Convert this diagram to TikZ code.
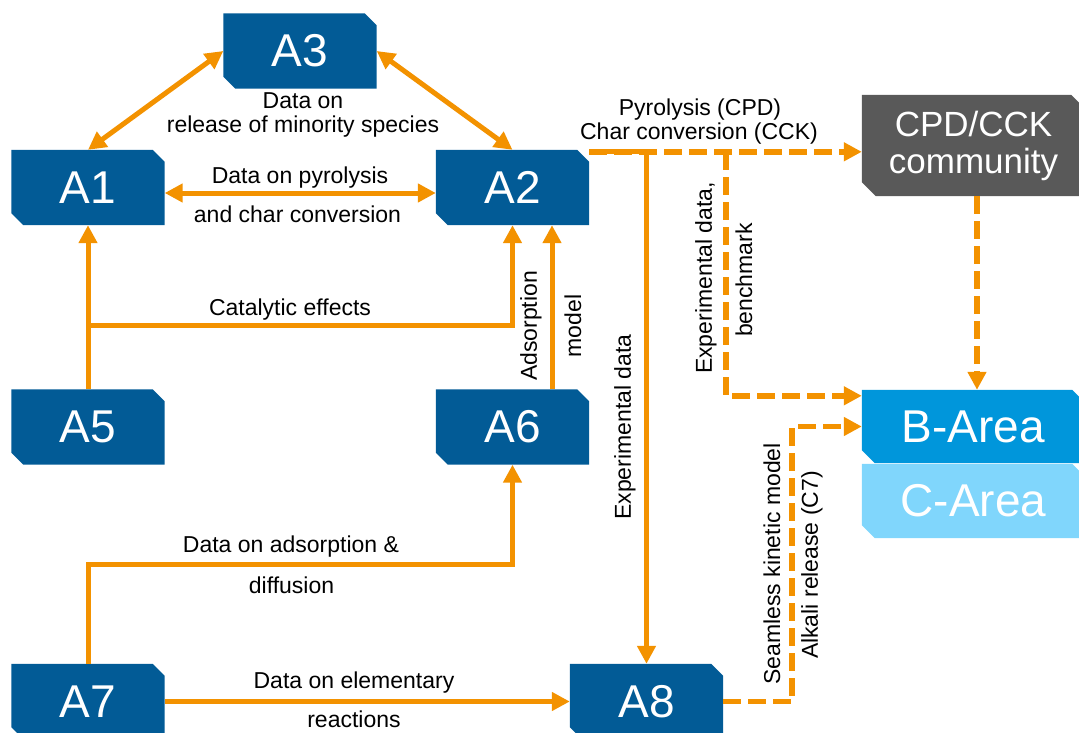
\documentclass[tikz,border=0pt]{standalone}
\usepackage{fontspec}
\setmainfont{Liberation Sans}
\usetikzlibrary{arrows.meta,backgrounds,calc}
\definecolor{ablue}{RGB}{2,91,150}
\definecolor{cgray}{RGB}{89,89,89}
\definecolor{bblue}{RGB}{0,150,219}
\definecolor{clight}{RGB}{128,214,252}
\definecolor{org}{RGB}{243,146,0}
\newcommand{\mkchbox}[3]{\fill[#2] (#1.north west) -- ([xshift=-#3]#1.north east) -- ([yshift=-#3]#1.north east) -- (#1.south east) -- ([xshift=#3]#1.south west) -- ([yshift=#3]#1.south west) -- cycle;}
\begin{document}
\begin{tikzpicture}[x=1pt,y=-1pt,
 abox/.style={rectangle, minimum width=153pt, minimum height=75pt, inner sep=0pt, text=white, font=\fontsize{46}{48}\selectfont},
 rbox/.style={rectangle, minimum width=223pt, inner sep=0pt, text=white, font=\fontsize{46}{48}\selectfont},
 lbl/.style={inner sep=0pt, anchor=base, font=\fontsize{23}{24}\selectfont},
 rlbl/.style={inner sep=0pt, rotate=90, font=\fontsize{23}{24}\selectfont},
 conn/.style={draw=org, line width=5pt, -{Triangle[width=18pt,length=18pt]}},
 biconn/.style={draw=org, line width=5pt, {Triangle[width=18pt,length=18pt]}-{Triangle[width=18pt,length=18pt]}},
 dconn/.style={draw=org, line width=5.5pt, dash pattern=on 18pt off 7pt, -{Triangle[width=18pt,length=18pt]}},
]
\useasboundingbox (0,0) rectangle (1079,733);
\clip (0,0) rectangle (1079,733);

% boxes
\node[abox] (a3) at (300,51) {A3};
\node[abox] (a1) at (88,187.5) {A1};
\node[abox] (a2) at (512.5,187.5) {A2};
\node[abox] (a5) at (88,427) {A5};
\node[abox] (a6) at (512.5,427) {A6};
\node[abox] (a7) at (88,701.5) {A7};
\node[abox] (a8) at (646.5,701.5) {A8};
\node[rbox, minimum height=101pt, align=center, font=\fontsize{35}{37}\selectfont] (cpd) at (973.5,145.5) {CPD/CCK\\community};
\node[rbox, minimum height=73pt] (barea) at (973.5,426.5) {B-Area};
\node[rbox, minimum height=74pt] (carea) at (973.5,501) {C-Area};

\begin{pgfonlayer}{background}
\mkchbox{a3}{ablue}{12pt}
\mkchbox{a1}{ablue}{12pt}
\mkchbox{a2}{ablue}{12pt}
\mkchbox{a5}{ablue}{12pt}
\mkchbox{a6}{ablue}{12pt}
\mkchbox{a7}{ablue}{12pt}
\mkchbox{a8}{ablue}{12pt}
\mkchbox{cpd}{cgray}{14pt}
\mkchbox{barea}{bblue}{13pt}
\mkchbox{carea}{clight}{13pt}
\end{pgfonlayer}

% helper coordinates
\coordinate (p0) at ([yshift=-2pt]a2.north east);
\coordinate (cat) at (88,325);
\coordinate (ads) at (88,564);
\coordinate (j2) at (726,152);

% connectors
\draw[biconn] (a3.west) -- (a1.north);
\draw[biconn] (a3.east) -- (a2.north);
\draw[biconn] ([yshift=-5.5pt]a1.east) -- ([yshift=-5.5pt]a2.west);
\draw[conn] (a5.north) -- (a1.south);
\draw[conn] (cat) -| (a2.south);
\draw[conn] ([xshift=39.5pt]a6.north) -- ([xshift=39.5pt]a2.south);
\draw[conn] (a7.north) -- (ads) -| (a6.south);
\draw[conn] (a7.east) -- (a8.west);
\draw[conn] (p0) -| (a8.north);
\draw[dconn] (p0) -- (p0 -| cpd.west);
\draw[dconn] (j2) |- ([yshift=-6pt]barea.north west);
\draw[dconn] ([xshift=3.5pt]cpd.south) -- ([xshift=3.5pt]barea.north);
\draw[dconn] (a8.east) -- ++(69,0) |- (barea.west);

% labels
\node[lbl] (l3a) at (303,109) {Data on};
\node[lbl] (l3b) at (303,132) {release of minority species};
\node[lbl] (l12a) at (300,183) {Data on pyrolysis};
\node[lbl] (l12b) at (297.5,222) {and char conversion};
\node[lbl] (lcat) at (290,315) {Catalytic effects};
\node[lbl] (l76a) at (291,552) {Data on adsorption \&};
\node[lbl] (l76b) at (291.5,593) {diffusion};
\node[lbl] (l78a) at (354,688) {Data on elementary};
\node[lbl] (l78b) at (354,727) {reactions};
\node[lbl] (lpa) at (700,116) {Pyrolysis (CPD)};
\node[lbl] (lpb) at (699,140) {Char conversion (CCK)};
\node[rlbl] (lads) at (531,326) {Adsorption};
\node[rlbl] (lmod) at (573,326) {model};
\node[rlbl] (lexp) at (625,427) {Experimental data};
\node[rlbl] (lexb1) at (706,278) {Experimental data,};
\node[rlbl] (lexb2) at (744,280) {benchmark};
\node[rlbl] (lsk1) at (772,564) {Seamless kinetic model};
\node[rlbl] (lsk2) at (812,565) {Alkali release (C7)};
\end{tikzpicture}
\end{document}
